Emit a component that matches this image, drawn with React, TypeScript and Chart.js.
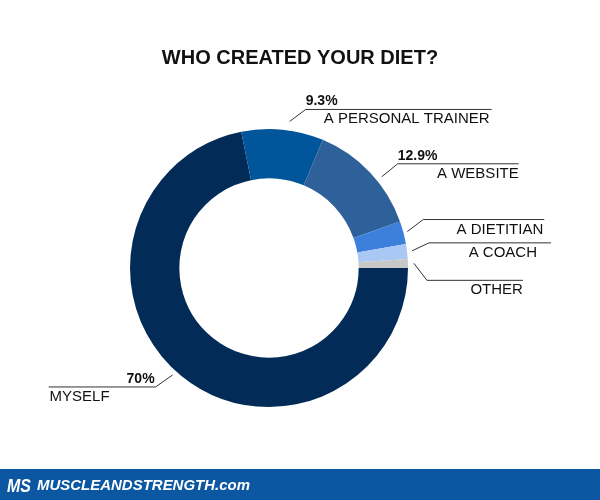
import { useEffect, useRef } from 'react';
import { Chart, registerables } from 'chart.js';

Chart.register(...registerables);

const TITLE = 'WHO CREATED YOUR DIET?';
const FOOTER_BRAND = 'MUSCLEANDSTRENGTH.com';
const FOOTER_LOGO = 'MS';

const categories = ['MYSELF', 'A PERSONAL TRAINER', 'A WEBSITE', 'A DIETITIAN', 'A COACH', 'OTHER'];
const shares = [70, 9.3, 12.9, 2.6, 1.7, 1.0];
const showPercent = [true, true, true, false, false, false];
const sliceColors = ['#022b57', '#00559b', '#2e6199', '#3c80dc', '#a9c8f4', '#c8c8c8'];

// leader-line styling per slice: angle shift (deg), start radius, elbow offset, horizontal length, text inset
const leaderLayout = [
  { shift: 2.8, r: 144, dx: -17, dy: 12, len: -107, inset: 1 },
  { shift: 2.4, r: 148, dx: 16, dy: -12, len: 186, inset: 2 },
  { shift: 4.4, r: 145, dx: 16, dy: -13, len: 121, inset: 0 },
  { shift: 0, r: 143, dx: 16, dy: -12, len: 121, inset: 1 },
  { shift: 0, r: 144, dx: 17, dy: -8, len: 122, inset: 14 },
  { shift: 0, r: 145, dx: 13, dy: 17, len: 96, inset: 0 },
];

const FONT = '"Liberation Sans", Arial, Helvetica, sans-serif';

const overlayPlugin = {
  id: 'overlay',
  afterDraw(chart: any) {
    const ctx = chart.ctx as CanvasRenderingContext2D;
    ctx.save();
    // title
    ctx.fillStyle = '#111';
    ctx.font = `bold 20px ${FONT}`;
    ctx.textAlign = 'center';
    ctx.textBaseline = 'alphabetic';
    ctx.fillText(TITLE, 300, 64);

    // leader lines and labels
    const meta = chart.getDatasetMeta(0);
    meta.data.forEach((arc: any, i: number) => {
      const L = leaderLayout[i];
      const { x, y, startAngle, endAngle } = arc.getProps(['x', 'y', 'startAngle', 'endAngle'], true);
      const mid = (startAngle + endAngle) / 2 + (L.shift * Math.PI) / 180;
      const sx = x + Math.cos(mid) * L.r;
      const sy = y + Math.sin(mid) * L.r;
      const ex = sx + L.dx;
      const ey = sy + L.dy;
      const hx = ex + L.len;
      ctx.strokeStyle = '#333';
      ctx.lineWidth = 1;
      ctx.beginPath();
      ctx.moveTo(sx, sy);
      ctx.lineTo(ex, ey);
      ctx.lineTo(hx, ey);
      ctx.stroke();

      const right = L.len > 0;
      ctx.fillStyle = '#111';
      if (showPercent[i]) {
        ctx.font = `bold 14px ${FONT}`;
        ctx.textAlign = right ? 'left' : 'right';
        ctx.fillText(`${shares[i]}%`, right ? ex : ex - 1, ey - 4);
      }
      ctx.font = `15px ${FONT}`;
      ctx.textAlign = right ? 'right' : 'left';
      ctx.fillText(categories[i], right ? hx - L.inset : hx + L.inset, ey + 14);
    });

    // footer band
    ctx.fillStyle = '#0b57a1';
    ctx.fillRect(0, 469, 600, 31);
    ctx.fillStyle = '#ffffff';
    ctx.textAlign = 'left';
    ctx.font = `italic bold 19px ${FONT}`;
    let w = ctx.measureText(FOOTER_LOGO).width;
    ctx.save();
    ctx.translate(7, 492);
    ctx.scale(24 / w, 1);
    ctx.fillText(FOOTER_LOGO, 0, 0);
    ctx.restore();
    ctx.font = `italic bold 14px ${FONT}`;
    w = ctx.measureText(FOOTER_BRAND).width;
    ctx.save();
    ctx.translate(37, 490);
    ctx.scale(213 / w, 1);
    ctx.fillText(FOOTER_BRAND, 0, 0);
    ctx.restore();

    ctx.restore();
  },
};

export default function App() {
  const ref = useRef<HTMLCanvasElement | null>(null);
  useEffect(() => {
    if (!ref.current) return;
    const chart = new Chart(ref.current, {
      type: 'doughnut',
      data: {
        labels: categories,
        datasets: [
          {
            data: shares,
            backgroundColor: sliceColors,
            borderWidth: 0,
            hoverOffset: 0,
            offset: 0,
          },
        ],
      },
      options: {
        responsive: false,
        maintainAspectRatio: false,
        animation: false,
        rotation: 90,
        cutout: '64.5%',
        layout: { padding: { top: 129, bottom: 93, left: 130, right: 192 } },
        plugins: {
          legend: { display: false },
          tooltip: { enabled: false },
          title: { display: false },
        },
      },
      plugins: [overlayPlugin],
    } as any);
    return () => chart.destroy();
  }, []);
  return (
    <div style={{ position: 'fixed', top: 0, left: 0, width: 600, height: 500, background: '#fff' }}>
      <canvas ref={ref} width={600} height={500} style={{ display: 'block', width: 600, height: 500 }} />
    </div>
  );
}
